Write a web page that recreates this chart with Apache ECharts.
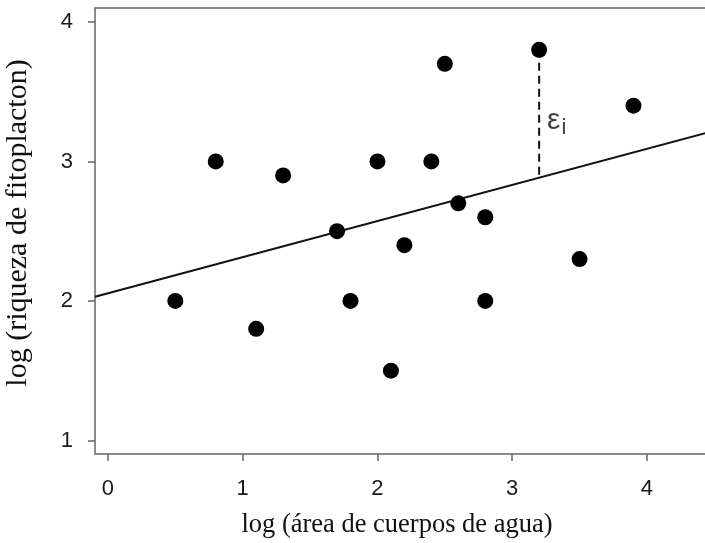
<!DOCTYPE html>
<html>
<head>
<meta charset="utf-8">
<script src="https://cdn.jsdelivr.net/npm/echarts@6/dist/echarts.min.js"></script>
<style>
html, body { margin: 0; padding: 0; background: #fff; }
#chart0 { width: 705px; height: 543px; }
</style>
</head>
<body>
<div id="chart0"></div>
<script>
'use strict';

// data
var area_x = [0.5, 0.8, 1.1, 1.3, 1.7, 1.8, 2.0, 2.1, 2.2, 2.4, 2.5, 2.6, 2.8, 2.8, 3.2, 3.5, 3.9];
var riqueza_y = [2.0, 3.0, 1.8, 2.9, 2.5, 2.0, 3.0, 1.5, 2.4, 3.0, 3.7, 2.7, 2.6, 2.0, 3.8, 2.3, 3.4];
var fit_intercept = 2.055;
var fit_slope = 0.259;
var x_ticks = [0, 1, 2, 3, 4];
var y_ticks = [1, 2, 3, 4];
var resid_index = 14;
var eps_pos = [3.33, 3.29];

// axis extent (right edge runs a bit past the picture)
var x_min = -0.096, x_max = 4.505;
var y_min = 0.903, y_max = 4.10;

var points = [];
for (var i = 0; i < area_x.length; i++) {
	points.push([area_x[i], riqueza_y[i]]);
}
var fit_line = [
	[x_min, fit_intercept + fit_slope * x_min],
	[x_max, fit_intercept + fit_slope * x_max]
];
var rx = area_x[resid_index];
var resid_line = [
	[rx, riqueza_y[resid_index]],
	[rx, fit_intercept + fit_slope * rx]
];

var chart0 = echarts.init(document.getElementById('chart0'));
var tick_font = { fontFamily: 'Liberation Sans', fontSize: 22, color: '#1a1a1a' };

chart0.setOption({
	animation: false,
	grid: {
		left: 95,
		top: 8,
		right: -10,
		bottom: 89,
		outerBoundsMode: 'none',
		containLabel: false,
		show: true,
		borderColor: '#666',
		borderWidth: 1.5
	},
	xAxis: {
		type: 'value',
		min: x_min,
		max: x_max,
		name: 'log (área de cuerpos de agua)',
		nameLocation: 'middle',
		nameGap: 58,
		nameTextStyle: { fontFamily: 'Liberation Serif', fontSize: 26.5, color: '#111', padding: [0, 16, 0, 0] },
		splitLine: { show: false },
		axisLine: { show: false, onZero: false },
		axisTick: {
			show: true,
			length: 7,
			lineStyle: { color: '#666', width: 1.5 },
			customValues: x_ticks
		},
		axisLabel: Object.assign({
			margin: 24,
			customValues: x_ticks
		}, tick_font)
	},
	yAxis: {
		type: 'value',
		min: y_min,
		max: y_max,
		name: 'log (riqueza de fitoplacton)',
		nameLocation: 'middle',
		nameGap: 62,
		nameTextStyle: { fontFamily: 'Liberation Serif', fontSize: 30, color: '#111', padding: [0, 0, 0, 16] },
		splitLine: { show: false },
		axisLine: { show: false, onZero: false },
		axisTick: {
			show: true,
			length: 7,
			lineStyle: { color: '#666', width: 1.5 },
			customValues: y_ticks
		},
		axisLabel: Object.assign({
			margin: 22,
			customValues: y_ticks
		}, tick_font)
	},
	series: [{
		type: 'line',
		data: fit_line,
		symbol: 'none',
		lineStyle: { color: '#111', width: 2 },
		z: 2
	}, {
		type: 'line',
		data: resid_line,
		symbol: 'none',
		lineStyle: { color: '#111', width: 2, type: [8, 5] },
		z: 2
	}, {
		type: 'scatter',
		data: points,
		symbol: 'circle',
		symbolSize: 16,
		itemStyle: { color: '#000', opacity: 1 },
		z: 3
	}, {
		type: 'scatter',
		data: [eps_pos],
		symbolSize: 0,
		label: {
			show: true,
			position: 'inside',
			formatter: '{e|ε}{i|i}',
			rich: {
				e: { fontFamily: 'Liberation Sans', fontSize: 30, color: '#111' },
				i: { fontFamily: 'Liberation Sans', fontSize: 22, color: '#111', padding: [14, 0, 0, 1] }
			}
		}
	}]
});
</script>
</body>
</html>
